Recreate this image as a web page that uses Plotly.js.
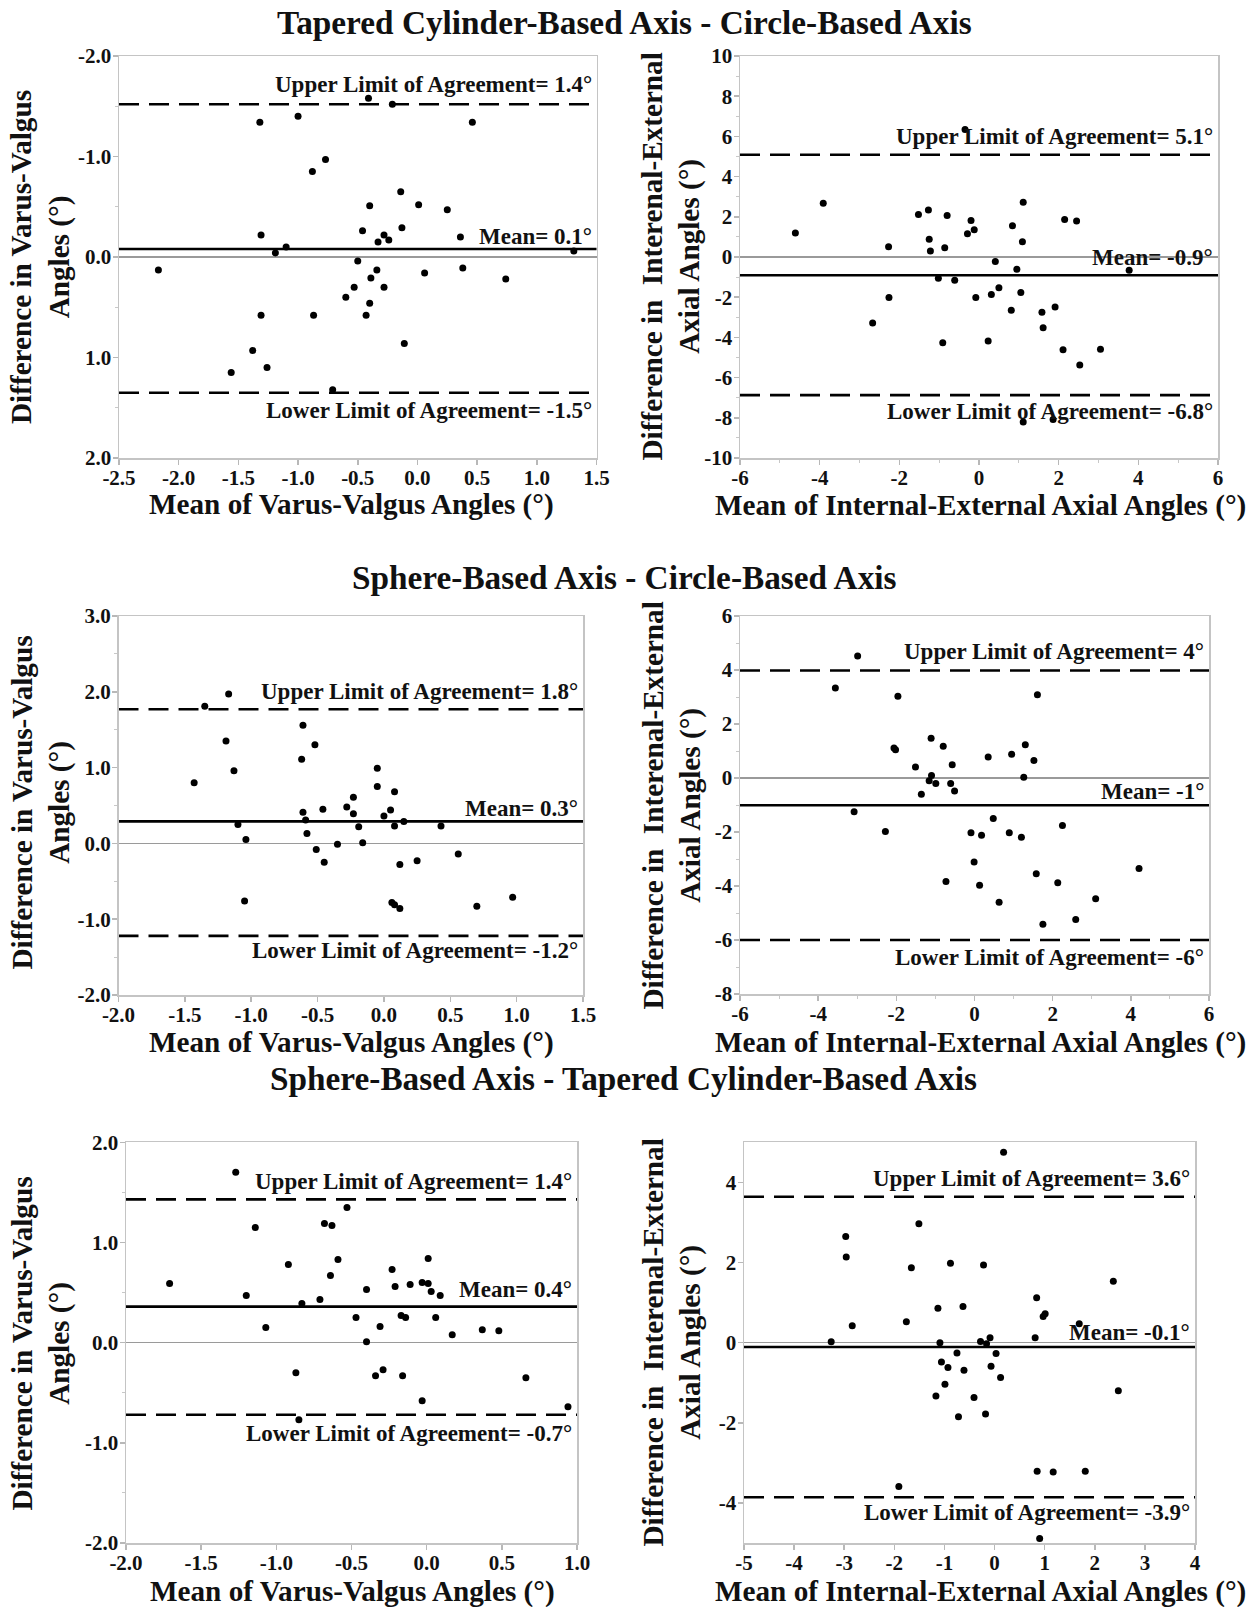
<!DOCTYPE html>
<html>
<head>
<meta charset="utf-8">
<script src="https://cdn.plot.ly/plotly-3.0.1.min.js"></script>
<style>html,body{margin:0;padding:0;background:#fff;}</style>
</head>
<body>
<div id="chart" style="width:1256px;height:1607px;"></div>
<script>
// ---------------- DATA ----------------
const rowTitles = [
  "Tapered Cylinder-Based Axis - Circle-Based Axis",
  "Sphere-Based Axis - Circle-Based Axis",
  "Sphere-Based Axis - Tapered Cylinder-Based Axis"
];
const xTitleVV = "Mean of Varus-Valgus Angles (°)";
const xTitleIE = "Mean of Internal-External Axial Angles (°)";
const yTitleVV = "Difference in Varus-Valgus<br>Angles (°)";
const yTitleIE = "Difference in  Interenal-External<br>Axial Angles (°)";

// Tick values and tick labels
const p1XTicks = [-2.5,-2,-1.5,-1,-0.5,0,0.5,1,1.5];
const p1XTickText = ["-2.5","-2.0","-1.5","-1.0","-0.5","0.0","0.5","1.0","1.5"];
const p1YTicks = [-2,-1,0,1,2];
const p1YTickText = ["-2.0","-1.0","0.0","1.0","2.0"];
const p2XTicks = [-6,-4,-2,0,2,4,6];
const p2XTickText = ["-6","-4","-2","0","2","4","6"];
const p2YTicks = [-10,-8,-6,-4,-2,0,2,4,6,8,10];
const p2YTickText = ["-10","-8","-6","-4","-2","0","2","4","6","8","10"];
const p3XTicks = [-2,-1.5,-1,-0.5,0,0.5,1,1.5];
const p3XTickText = ["-2.0","-1.5","-1.0","-0.5","0.0","0.5","1.0","1.5"];
const p3YTicks = [-2,-1,0,1,2,3];
const p3YTickText = ["-2.0","-1.0","0.0","1.0","2.0","3.0"];
const p4XTicks = [-6,-4,-2,0,2,4,6];
const p4XTickText = ["-6","-4","-2","0","2","4","6"];
const p4YTicks = [-8,-6,-4,-2,0,2,4,6];
const p4YTickText = ["-8","-6","-4","-2","0","2","4","6"];
const p5XTicks = [-2,-1.5,-1,-0.5,0,0.5,1];
const p5XTickText = ["-2.0","-1.5","-1.0","-0.5","0.0","0.5","1.0"];
const p5YTicks = [-2,-1,0,1,2];
const p5YTickText = ["-2.0","-1.0","0.0","1.0","2.0"];
const p6XTicks = [-5,-4,-3,-2,-1,0,1,2,3,4];
const p6XTickText = ["-5","-4","-3","-2","-1","0","1","2","3","4"];
const p6YTicks = [-4,-2,0,2,4];
const p6YTickText = ["-4","-2","0","2","4"];

// Panel 1: Tapered vs Circle, varus-valgus (axis drawn reversed)
const p1x = [-2.17,-1.56,-1.38,-1.32,-1.31,-1.31,-1.26,-1.19,-1.10,-1.00,-0.88,-0.87,-0.77,-0.71,-0.60,-0.53,-0.50,-0.46,-0.43,-0.41,-0.40,-0.40,-0.39,-0.34,-0.33,-0.28,-0.28,-0.24,-0.21,-0.14,-0.13,-0.11,0.01,0.06,0.25,0.36,0.38,0.46,0.74,1.31];
const p1y = [0.13,1.15,0.93,-1.34,-0.22,0.58,1.10,-0.04,-0.10,-1.40,-0.85,0.58,-0.97,1.32,0.40,0.30,0.04,-0.26,0.58,-1.58,-0.51,0.46,0.21,0.13,-0.15,-0.22,0.30,-0.17,-1.52,-0.65,-0.29,0.86,-0.52,0.16,-0.47,-0.20,0.11,-1.34,0.22,-0.06];
const p1Lines = [-1.52, -0.08, 1.35];
const p1Labels = ["Upper Limit of Agreement= 1.4°", "Mean= 0.1°", "Lower Limit of Agreement= -1.5°"];

// Panel 2: Tapered vs Circle, internal-external
const p2x = [-4.61,-3.91,-2.67,-2.27,-2.26,-1.52,-1.27,-1.25,-1.22,-1.02,-0.86,-0.80,-0.91,-0.61,-0.35,-0.29,-0.20,-0.12,-0.08,0.23,0.31,0.41,0.50,0.81,0.84,0.95,1.05,1.09,1.11,1.11,1.58,1.61,1.86,1.91,2.11,2.15,2.45,2.53,3.05,3.77];
const p2y = [1.19,2.67,-3.28,0.51,-2.01,2.12,2.34,0.88,0.30,-1.06,0.46,2.06,-4.26,-1.16,6.34,1.16,1.82,1.36,-2.02,-4.18,-1.87,-0.23,-1.53,-2.65,1.56,-0.61,-1.76,0.76,2.72,-8.21,-2.75,-3.52,-8.09,-2.49,-4.61,1.86,1.79,-5.37,-4.59,-0.66];
const p2Lines = [5.09, -0.91, -6.87];
const p2Labels = ["Upper Limit of Agreement= 5.1°", "Mean= -0.9°", "Lower Limit of Agreement= -6.8°"];

// Panel 3: Sphere vs Circle, varus-valgus
const p3x = [-1.43,-1.35,-1.19,-1.17,-1.13,-1.10,-1.04,-1.05,-0.61,-0.61,-0.62,-0.59,-0.58,-0.52,-0.51,-0.46,-0.45,-0.35,-0.28,-0.23,-0.23,-0.19,-0.16,-0.05,-0.05,0.00,0.05,0.06,0.08,0.08,0.08,0.12,0.12,0.15,0.25,0.43,0.56,0.70,0.97];
const p3y = [0.80,1.81,1.35,1.97,0.96,0.25,0.05,-0.76,0.41,1.56,1.11,0.31,0.13,1.30,-0.08,0.45,-0.25,-0.01,0.48,0.61,0.39,0.22,0.01,0.99,0.75,0.36,0.44,-0.78,0.68,0.23,-0.81,-0.28,-0.86,0.29,-0.23,0.23,-0.14,-0.83,-0.71];
const p3Lines = [1.77, 0.29, -1.22];
const p3Labels = ["Upper Limit of Agreement= 1.8°", "Mean= 0.3°", "Lower Limit of Agreement= -1.2°"];

// Panel 4: Sphere vs Circle, internal-external
const p4x = [-3.56,-3.08,-2.99,-2.28,-2.06,-2.02,-1.96,-1.51,-1.36,-1.16,-1.11,-1.10,-0.99,-0.80,-0.73,-0.61,-0.57,-0.51,-0.09,-0.01,0.13,0.18,0.35,0.48,0.63,0.89,0.95,1.20,1.26,1.30,1.52,1.58,1.61,1.75,2.13,2.25,2.59,3.10,4.21];
const p4y = [3.33,-1.25,4.52,-1.98,1.11,1.05,3.03,0.41,-0.60,-0.10,1.47,0.09,-0.20,1.18,-3.83,-0.20,0.49,-0.48,-2.03,-3.11,-3.97,-2.12,0.78,-1.50,-4.60,-2.03,0.88,-2.19,0.03,1.23,0.65,-3.55,3.08,-5.42,-3.88,-1.76,-5.24,-4.47,-3.35];
const p4Lines = [3.98, -1.01, -6.0];
const p4Labels = ["Upper Limit of Agreement= 4°", "Mean= -1°", "Lower Limit of Agreement= -6°"];

// Panel 5: Sphere vs Tapered, varus-valgus
const p5x = [-1.71,-1.27,-1.20,-1.14,-1.07,-0.92,-0.87,-0.85,-0.83,-0.71,-0.68,-0.63,-0.64,-0.59,-0.53,-0.47,-0.40,-0.40,-0.34,-0.31,-0.29,-0.23,-0.21,-0.17,-0.14,-0.16,-0.11,-0.03,-0.03,0.01,0.01,0.03,0.06,0.09,0.17,0.37,0.48,0.66,0.94];
const p5y = [0.59,1.70,0.47,1.15,0.15,0.78,-0.30,-0.77,0.39,0.43,1.19,1.17,0.67,0.83,1.35,0.25,0.53,0.01,-0.33,0.16,-0.27,0.73,0.56,0.27,0.25,-0.33,0.58,-0.58,0.60,0.84,0.59,0.51,0.25,0.47,0.08,0.13,0.12,-0.35,-0.64];
const p5Lines = [1.43, 0.36, -0.72];
const p5Labels = ["Upper Limit of Agreement= 1.4°", "Mean= 0.4°", "Lower Limit of Agreement= -0.7°"];

// Panel 6: Sphere vs Tapered, internal-external
const p6x = [-3.26,-2.97,-2.96,-2.84,-1.91,-1.76,-1.66,-1.51,-1.17,-1.13,-1.09,-1.06,-0.99,-0.93,-0.88,-0.75,-0.72,-0.63,-0.61,-0.41,-0.28,-0.22,-0.18,-0.16,-0.09,-0.07,0.03,0.12,0.18,0.81,0.84,0.85,0.90,0.97,1.01,1.17,1.69,1.81,2.37,2.47];
const p6y = [0.02,2.65,2.14,0.42,-3.59,0.52,1.87,2.97,-1.33,0.86,0.00,-0.48,-1.04,-0.62,1.98,-0.26,-1.85,0.90,-0.69,-1.37,0.03,1.94,-1.78,-0.03,0.12,-0.59,-0.27,-0.87,4.75,0.12,1.12,-3.21,-4.89,0.65,0.72,-3.23,0.47,-3.21,1.53,-1.20];
const p6Lines = [3.64, -0.11, -3.86];
const p6Labels = ["Upper Limit of Agreement= 3.6°", "Mean= -0.1°", "Lower Limit of Agreement= -3.9°"];

// ---------------- LAYOUT CONFIG ----------------
const W = 1256, H = 1607;
const FONT = 'Liberation Serif, "Times New Roman", serif';

const panels = [
  {x:p1x, y:p1y, lines:p1Lines, labels:p1Labels, box:[119,596.5,56,458], xr:[-2.5,1.5], yr:[2,-2], yminor:0.5, xminor:null,
   xtv:p1XTicks, xtt:p1XTickText, ytv:p1YTicks, ytt:p1YTickText,
   xt:xTitleVV, yt:yTitleVV, xtPos:[351,504], ytPos:[41,257], shifts:[20,12,-18]},
  {x:p2x, y:p2y, lines:p2Lines, labels:p2Labels, box:[740,1218,56,458], xr:[-6,6], yr:[-10,10], yminor:1, xminor:1,
   xtv:p2XTicks, xtt:p2XTickText, ytv:p2YTicks, ytt:p2YTickText,
   xt:xTitleIE, yt:yTitleIE, xtPos:[980.5,505], ytPos:[671.5,257], shifts:[18,18,-16]},
  {x:p3x, y:p3y, lines:p3Lines, labels:p3Labels, box:[118.5,583,616,995], xr:[-2,1.5], yr:[-2,3], yminor:0.5, xminor:null,
   xtv:p3XTicks, xtt:p3XTickText, ytv:p3YTicks, ytt:p3YTickText,
   xt:xTitleVV, yt:yTitleVV, xtPos:[351,1042], ytPos:[40.5,803], shifts:[18,13,-15]},
  {x:p4x, y:p4y, lines:p4Lines, labels:p4Labels, box:[740,1209,616,994], xr:[-6,6], yr:[-8,6], yminor:1, xminor:1,
   xtv:p4XTicks, xtt:p4XTickText, ytv:p4YTicks, ytt:p4YTickText,
   xt:xTitleIE, yt:yTitleIE, xtPos:[980.5,1042], ytPos:[671.5,806], shifts:[19,14,-17]},
  {x:p5x, y:p5y, lines:p5Lines, labels:p5Labels, box:[126,577,1142.3,1543], xr:[-2,1], yr:[-2,2], yminor:0.5, xminor:null,
   xtv:p5XTicks, xtt:p5XTickText, ytv:p5YTicks, ytt:p5YTickText,
   xt:xTitleVV, yt:yTitleVV, xtPos:[352,1591], ytPos:[40.5,1344], shifts:[18,17,-19]},
  {x:p6x, y:p6y, lines:p6Lines, labels:p6Labels, box:[744,1195,1142.3,1543], xr:[-5,4], yr:[-5,5], yminor:null, xminor:null,
   xtv:p6XTicks, xtt:p6XTickText, ytv:p6YTicks, ytt:p6YTickText,
   xt:xTitleIE, yt:yTitleIE, xtPos:[980,1591], ytPos:[671.5,1343], shifts:[18,15,-15]}
];
const rowTitlePos = [[624,22.5],[624,577],[623,1078]];

const traces = [];
const shapes = [];
const annotations = [];
const layout = {
  width: W, height: H,
  margin: {l:0, r:0, t:0, b:0},
  paper_bgcolor: '#fff', plot_bgcolor: '#fff',
  showlegend: false,
  font: {family: FONT, color: '#000'}
};

const bold = arr => arr.map(t => '<b>' + t + '</b>');

function axisBase(){
  return {
    showline: true, mirror: true, linecolor: '#c4c4c4', linewidth: 1.5,
    ticks: 'outside', ticklen: 5, tickwidth: 1.5, tickcolor: '#b8b8b8',
    tickfont: {family: FONT, size: 21, color: '#111'},
    showgrid: false, zeroline: false, fixedrange: true, tickmode: 'array'
  };
}

panels.forEach((p, i) => {
  const s = i === 0 ? '' : String(i + 1);
  const xa = axisBase();
  Object.assign(xa, {
    domain: [p.box[0] / W, p.box[1] / W], range: p.xr, anchor: 'y' + s,
    tickvals: p.xtv, ticktext: bold(p.xtt), ticklabelstandoff: -5
  });
  if (p.xminor) xa.minor = {tick0: 0, dtick: p.xminor, ticks: 'outside', ticklen: 3, tickcolor: '#c8c8c8', tickwidth: 1, showgrid: false};
  const ya = axisBase();
  Object.assign(ya, {
    domain: [1 - p.box[3] / H, 1 - p.box[2] / H], range: p.yr, anchor: 'x' + s,
    tickvals: p.ytv, ticktext: bold(p.ytt), ticklabelstandoff: -3,
    zeroline: true, zerolinecolor: '#9a9a9a', zerolinewidth: 1.6
  });
  if (p.yminor) ya.minor = {tick0: 0, dtick: p.yminor, ticks: 'outside', ticklen: 3, tickcolor: '#c8c8c8', tickwidth: 1, showgrid: false};
  layout['xaxis' + s] = xa;
  layout['yaxis' + s] = ya;

  traces.push({
    type: 'scatter', mode: 'markers', x: p.x, y: p.y,
    xaxis: 'x' + s, yaxis: 'y' + s,
    marker: {color: '#000', size: 7},
    hoverinfo: 'x+y'
  });

  p.lines.forEach((v, k) => {
    shapes.push({
      type: 'line', xref: 'x' + s + ' domain', x0: 0, x1: 1,
      yref: 'y' + s, y0: v, y1: v, layer: 'below',
      line: {color: '#000', width: 2.6, dash: k === 1 ? 'solid' : '20px,10px'}
    });
    annotations.push({
      xref: 'x' + s + ' domain', x: 1, xanchor: 'right', xshift: -3,
      yref: 'y' + s, y: v, yanchor: 'middle', yshift: p.shifts[k],
      text: '<b>' + p.labels[k] + '</b>', showarrow: false,
      font: {family: FONT, size: 23, color: '#111'}
    });
  });

  annotations.push({
    xref: 'paper', yref: 'paper', x: p.xtPos[0] / W, y: 1 - p.xtPos[1] / H,
    xanchor: 'center', yanchor: 'middle', showarrow: false,
    text: '<b>' + p.xt + '</b>', font: {family: FONT, size: 29.2, color: '#111'}
  });
  annotations.push({
    xref: 'paper', yref: 'paper', x: p.ytPos[0] / W, y: 1 - p.ytPos[1] / H,
    xanchor: 'center', yanchor: 'middle', showarrow: false, textangle: -90,
    text: '<b>' + p.yt + '</b>', font: {family: FONT, size: 29.2, color: '#111'}
  });
});

rowTitles.forEach((t, r) => {
  annotations.push({
    xref: 'paper', yref: 'paper', x: rowTitlePos[r][0] / W, y: 1 - rowTitlePos[r][1] / H,
    xanchor: 'center', yanchor: 'middle', showarrow: false,
    text: '<b>' + t + '</b>', font: {family: FONT, size: 33.3, color: '#111'}
  });
});

layout.shapes = shapes;
layout.annotations = annotations;

Plotly.newPlot('chart', traces, layout, {staticPlot: true, displayModeBar: false});
</script>
</body>
</html>
